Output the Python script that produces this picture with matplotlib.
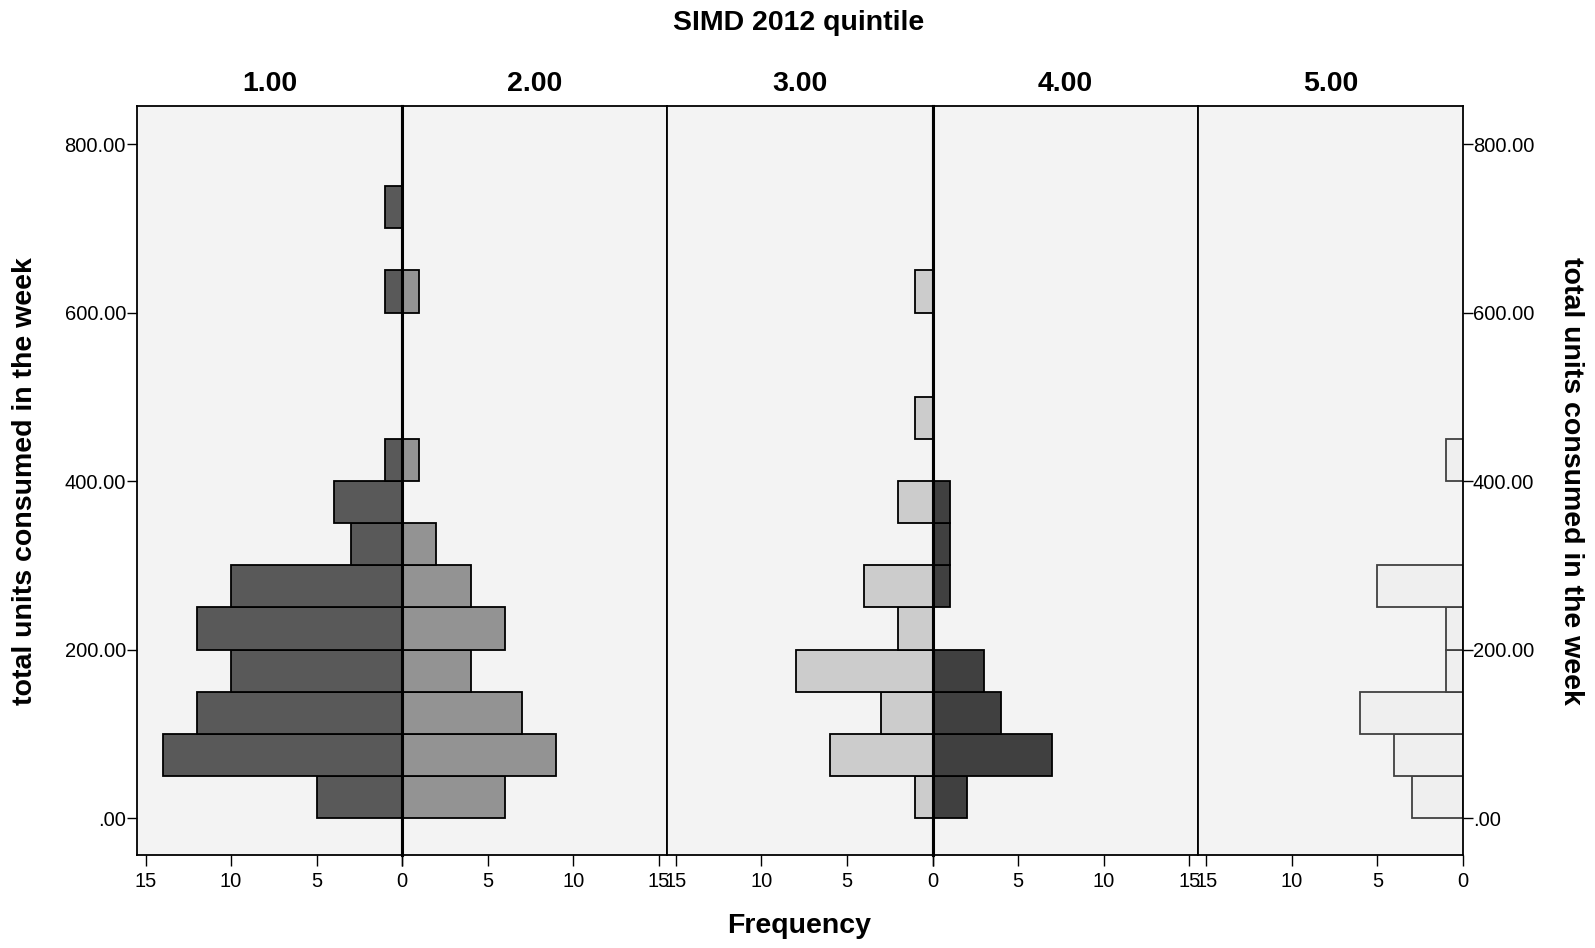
import matplotlib.pyplot as plt
import numpy as np

plt.rcParams['font.family'] = ['Liberation Sans', 'DejaVu Sans']

# histogram bins (units), width 50
bin_start = np.arange(0, 750, 50)
bin_width = 50

quintiles = ["1.00", "2.00", "3.00", "4.00", "5.00"]
q1 = [5, 14, 12, 10, 12, 10, 3, 4, 1, 0, 0, 0, 1, 0, 1]
q2 = [6, 9, 7, 4, 6, 4, 2, 0, 1, 0, 0, 0, 1, 0, 0]
q3 = [1, 6, 3, 8, 2, 4, 0, 2, 0, 1, 0, 0, 1, 0, 0]
q4 = [2, 7, 4, 3, 0, 1, 1, 1, 0, 0, 0, 0, 0, 0, 0]
q5 = [3, 4, 6, 1, 1, 5, 0, 0, 1, 0, 0, 0, 0, 0, 0]
freqs = [q1, q2, q3, q4, q5]

colores = ["#595959", "#939393", "#cccccc", "#404040", "#efefef"]
bordes = ["#000000", "#000000", "#000000", "#000000", "#404040"]

yticks = [0, 200, 400, 600, 800]
ytick_labels = [".00", "200.00", "400.00", "600.00", "800.00"]
xticks = [0, 5, 10, 15]

fig = plt.figure(figsize=(15.95, 9.48), dpi=100)
gs = fig.add_gridspec(1, 5, left=0.0859, right=0.9172, bottom=0.098, top=0.888, wspace=0)

for i in range(5):
    ax = fig.add_subplot(gs[0, i])
    ax.set_facecolor("#f3f3f3")
    vals = np.array(freqs[i])
    mask = vals > 0
    ax.barh(bin_start[mask], vals[mask], height=bin_width, align="edge",
            color=colores[i], edgecolor=bordes[i], linewidth=1.3)
    ax.set_xlim(0, 15.5)
    if i % 2 == 0:
        ax.invert_xaxis()
    ax.set_ylim(-44, 845)
    ax.set_xticks(xticks)
    etiquetas = [str(t) for t in xticks]
    if i % 2 == 1:
        etiquetas[0] = ""  # el 0 ya lo pone la mitad izquierda
    ax.set_xticklabels(etiquetas, fontsize=14.5)
    ax.set_yticks(yticks)
    ax.tick_params(axis="x", direction="out", length=8, width=1, pad=4)
    for s in ax.spines.values():
        s.set_linewidth(1.3)
    # el eje central de cada par un poco mas grueso
    if i % 2 == 0 and i < 4:
        ax.spines["right"].set_linewidth(2.2)
    if i % 2 == 1:
        ax.spines["left"].set_linewidth(2.2)
    ax.set_title(quintiles[i], fontsize=20.5, fontweight="bold", pad=11)
    if i == 0:
        ax.set_yticklabels(ytick_labels, fontsize=14.5)
        ax.tick_params(axis="y", direction="out", length=7, width=1, pad=1)
    elif i == 4:
        ax.yaxis.tick_right()
        ax.set_yticklabels(ytick_labels, fontsize=14.5)
        ax.tick_params(axis="y", direction="out", length=7, width=1, pad=0)
    else:
        ax.tick_params(axis="y", left=False, right=False, labelleft=False)

fig.text(0.501, 0.976, "SIMD 2012 quintile", ha="center", va="center", fontsize=20.5, fontweight="bold")
fig.text(0.501, 0.023, "Frequency", ha="center", va="center", fontsize=20.5, fontweight="bold")
fig.text(0.0159, 0.493, "total units consumed in the week", ha="center", va="center",
         rotation=90, fontsize=20.5, fontweight="bold")
fig.text(0.985, 0.493, "total units consumed in the week", ha="center", va="center",
         rotation=270, fontsize=20.5, fontweight="bold")

plt.savefig("out.png", dpi=100)
